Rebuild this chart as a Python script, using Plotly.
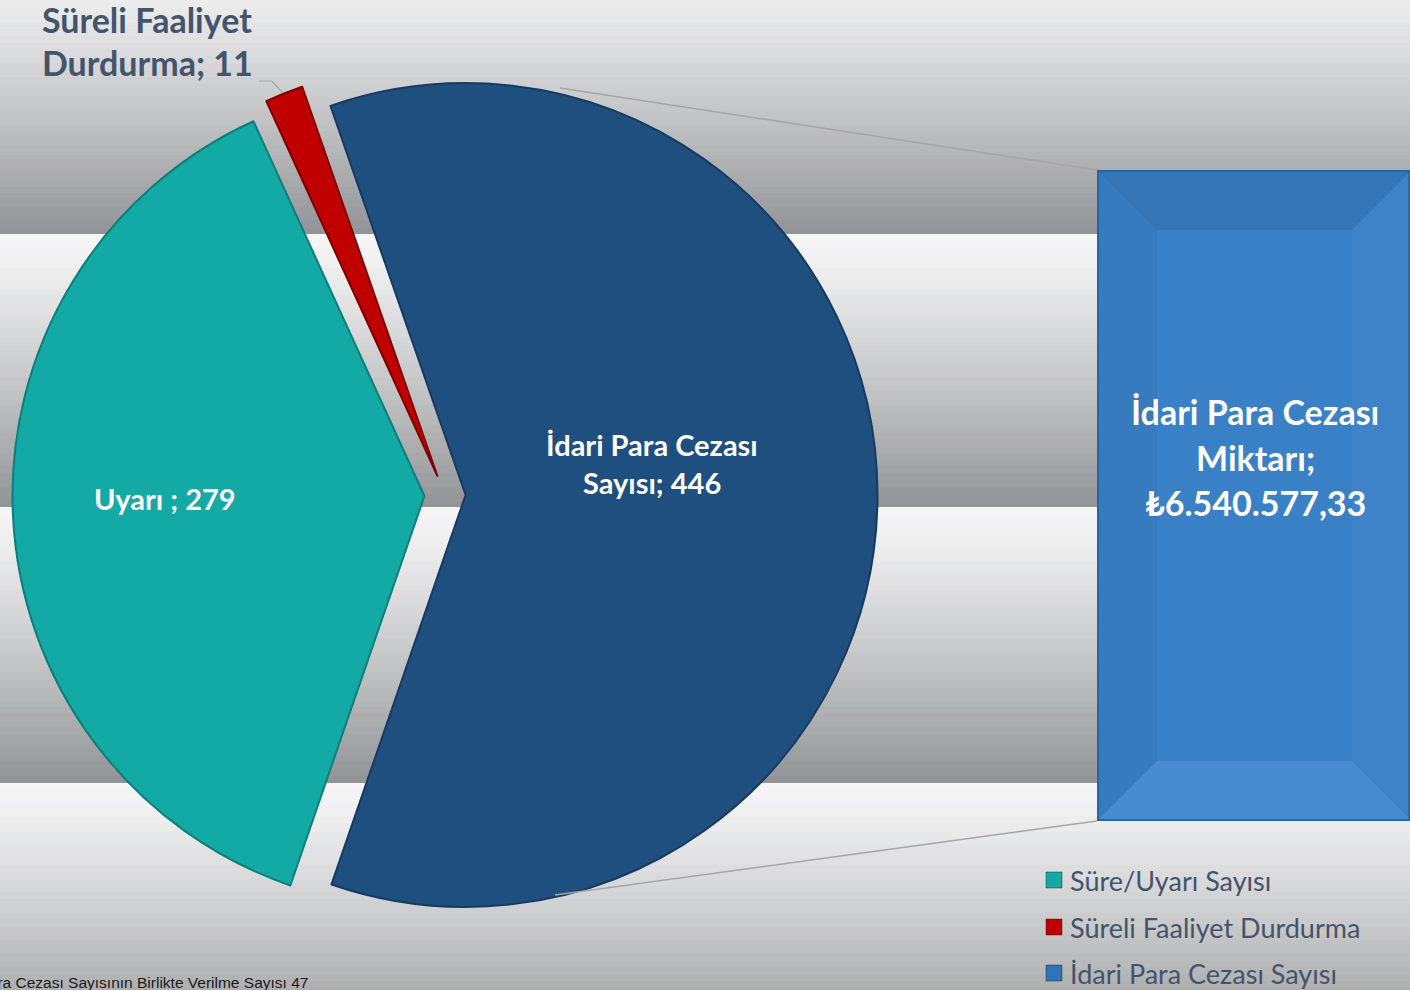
import plotly.graph_objects as go

# ---------------- data ----------------
legend_labels = ["Süre/Uyarı Sayısı", "Süreli Faaliyet Durdurma", "İdari Para Cezası Sayısı"]
short_labels = ["Uyarı ", "Süreli Faaliyet Durdurma", "İdari Para Cezası Sayısı"]
values = [279, 11, 446]
fine_amount = 6540577.33
fine_label = "İdari Para Cezası Miktarı"
note_text = "Uyarı ve İdari Para Cezası Sayısının Birlikte Verilme Sayısı 47"

slice_colors = ["#13a9a5", "#c00000", "#1f4f7e"]
slice_edges = ["#0c7e7b", "#7e0000", "#163b61"]
legend_colors = ["#13a9a5", "#c00000", "#2e75b6"]
bar_color = "#3a80c6"

W, H = 1410, 990
FONT = "Lato"
TXT = "#44546a"


def py(p):
    return 1 - p / H


def px(p):
    return p / W


def tr_money(v):
    s = f"{v:,.2f}"
    return "₺" + s.replace(",", "X").replace(".", ",").replace("X", ".")


fig = go.Figure()

# pie
fig.add_trace(go.Pie(
    labels=legend_labels,
    values=values,
    sort=False,
    direction="clockwise",
    rotation=199,
    pull=[0.05, 0.05, 0.05],
    marker=dict(colors=slice_colors, line=dict(color=slice_edges, width=2)),
    textinfo="none",
    hoverinfo="label+value",
    showlegend=False,
    domain=dict(x=[px(12.5), px(877.5)], y=[py(927.5), py(62.5)]),
))

# bar (amount)
fig.add_trace(go.Bar(
    x=[0], y=[fine_amount], width=1,
    marker=dict(color=bar_color, line=dict(color="#2a65a3", width=4)),
    xaxis="x", yaxis="y", showlegend=False, hoverinfo="y",
))

shapes = []
# background gradient bands
bands = [(-39, 234), (234, 507), (507, 783), (783, 1056)]
top_c = (246, 246, 247)
bot_c = (146, 147, 150)
steps = 40
for b0, b1 in bands:
    h = (b1 - b0) / steps
    for i in range(steps):
        f = ((i + 0.5) / steps) ** 1.2
        c = tuple(int(round(top_c[k] + (bot_c[k] - top_c[k]) * f)) for k in range(3))
        y0 = b0 + i * h
        y1 = b0 + (i + 1) * h + 0.6
        if y1 < 0 or y0 > H:
            continue
        shapes.append(dict(type="rect", xref="paper", yref="paper", layer="below",
                           x0=0, x1=1, y0=py(max(y0, 0)), y1=py(min(y1, H)),
                           fillcolor="rgb(%d,%d,%d)" % c, line=dict(width=0)))

# bevel look on the amount bar (decoration, drawn over the bar)
bx0, bx1, by0, by1, bw = 1099, 1410, 172, 819, 58


def poly(pts):
    return "M " + " L ".join(f"{px(a)},{py(b)}" for a, b in pts) + " Z"


bevels = [
    ([(bx0, by0), (bx1, by0), (bx1 - bw, by0 + bw), (bx0 + bw, by0 + bw)], "rgba(30,60,100,0.16)"),
    ([(bx0, by1), (bx1, by1), (bx1 - bw, by1 - bw), (bx0 + bw, by1 - bw)], "rgba(110,170,235,0.28)"),
    ([(bx0, by0), (bx0 + bw, by0 + bw), (bx0 + bw, by1 - bw), (bx0, by1)], "rgba(20,50,90,0.08)"),
    ([(bx1, by0), (bx1 - bw, by0 + bw), (bx1 - bw, by1 - bw), (bx1, by1)], "rgba(110,170,235,0.08)"),
]
for pts, col in bevels:
    shapes.append(dict(type="path", xref="paper", yref="paper", path=poly(pts),
                       fillcolor=col, line=dict(width=0), layer="above"))

# connector lines pie -> bar
shapes.append(dict(type="line", xref="paper", yref="paper", x0=px(560), y0=py(88),
                   x1=px(1097), y1=py(170), line=dict(color="#a6a6a8", width=1.5)))
shapes.append(dict(type="line", xref="paper", yref="paper", x0=px(555), y0=py(895),
                   x1=px(1097), y1=py(821), line=dict(color="#a6a6a8", width=1.5)))
# leader line for small slice
shapes.append(dict(type="path", xref="paper", yref="paper",
                   path=f"M {px(259)},{py(81)} L {px(272)},{py(81)} L {px(283)},{py(93)}",
                   line=dict(color="#a6a6a8", width=1.2)))

annotations = []


def add_lines(lines, x, ys, size, color, bold=True, xanchor="center"):
    for ln, yy in zip(lines, ys):
        t = f"<b>{ln}</b>" if bold else ln
        annotations.append(dict(text=t, x=px(x), y=py(yy), xref="paper", yref="paper",
                                showarrow=False, xanchor=xanchor, yanchor="middle",
                                font=dict(family=FONT, size=size, color=color)))


# slice labels
add_lines([f"{short_labels[0]}; {values[0]}"], 165, [498], 29, "white")
blue_words = short_labels[2].rsplit(" ", 1)
add_lines([blue_words[0], f"{blue_words[1]}; {values[2]}"], 652, [444, 483], 29, "white")
red_words = short_labels[1].rsplit(" ", 1)
add_lines([red_words[0], f"{red_words[1]}; {values[1]}"], 147, [19, 63], 34, TXT)

# bar label
fw = fine_label.rsplit(" ", 1)
add_lines([fw[0], fw[1] + ";", tr_money(fine_amount)], 1255, [411, 457, 502], 34, "white")

# manual legend
leg_y = [880, 927, 973]
for lab, col, yy in zip(legend_labels, legend_colors, leg_y):
    shapes.append(dict(type="rect", xref="paper", yref="paper",
                       x0=px(1046), x1=px(1062), y0=py(yy + 8), y1=py(yy - 8),
                       fillcolor=col, line=dict(color="rgba(0,0,0,0.35)", width=1)))
    add_lines([lab], 1068, [yy], 27, TXT, bold=False, xanchor="left")

# bottom note (cut off on the left)
annotations.append(dict(text=note_text, x=px(310), y=py(982), xref="paper", yref="paper",
                        showarrow=False, xanchor="right", yanchor="middle",
                        font=dict(family="Liberation Sans", size=15.5, color="#1a1a1a")))

fig.update_layout(
    width=W, height=H,
    margin=dict(l=0, r=0, t=0, b=0),
    paper_bgcolor="#d0d0d2",
    plot_bgcolor="rgba(0,0,0,0)",
    xaxis=dict(domain=[px(1097), 1.0], range=[-0.5, 0.5], visible=False, fixedrange=True),
    yaxis=dict(domain=[py(821), py(170)], range=[0, fine_amount], visible=False, fixedrange=True),
    shapes=shapes,
    annotations=annotations,
    showlegend=False,
)

fig.write_html("out.html", config={"displayModeBar": False},
               post_script="document.body.style.margin='0px';document.body.style.overflow='hidden';")
